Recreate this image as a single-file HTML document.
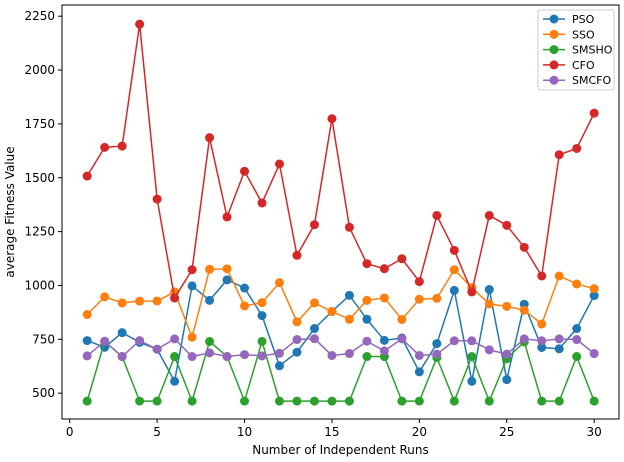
<!DOCTYPE html>
<html><head><meta charset="utf-8"><style>
html,body{margin:0;padding:0;background:#fff;}
svg{display:block;font-family:"DejaVu Sans","Liberation Sans",sans-serif;}
</style></head><body>
<svg id="chart" width="624" height="462" viewBox="0 0 624 462" xmlns="http://www.w3.org/2000/svg">
<g id="plot"></g>
</svg>
<script>
const runs = Array.from({length:30},(_,i)=>i+1);
const psoValues = [744,713,781,736,704,555,998,931,1026,988,860,627,690,800,879,954,843,745,756,599,730,977,555,981,563,913,712,706,800,953];
const ssoValues = [865,947,919,927,928,970,760,1075,1077,905,920,1013,831,919,879,843,931,942,842,936,940,1073,990,914,903,885,821,1044,1007,985];
const smshoValues = [463,740,670,463,463,670,463,740,670,463,740,463,463,463,463,463,670,670,463,463,665,463,670,463,660,738,463,463,670,463];
const cfoValues = [1508,1641,1647,2213,1401,942,1073,1686,1318,1530,1383,1564,1140,1282,1774,1270,1101,1078,1124,1018,1325,1163,970,1325,1279,1177,1044,1607,1636,1800];
const smcfoValues = [673,741,670,744,704,752,670,687,670,679,673,685,749,753,675,684,741,696,752,675,681,743,743,701,681,752,743,752,749,684];
const seriesNames = ["PSO","SSO","SMSHO","CFO","SMCFO"];
const xTicks = [0,5,10,15,20,25,30];
const yTicks = [500,750,1000,1250,1500,1750,2000,2250];

const colors = ["#1f77b4","#ff7f0e","#2ca02c","#d62728","#9467bd"];
const allSeries = [psoValues,ssoValues,smshoValues,cfoValues,smcfoValues];
const L=62,R=619,T=5,B=419;
const xMin=-0.44,xMax=31.42,yMin=380,yMax=2302;
const xs=v=>L+(v-xMin)/(xMax-xMin)*(R-L);
const ys=v=>B-(v-yMin)/(yMax-yMin)*(B-T);
const NS="http://www.w3.org/2000/svg";
const g=document.getElementById('plot');
function mk(tag,attrs,parent){const e=document.createElementNS(NS,tag);for(const k in attrs)e.setAttribute(k,attrs[k]);(parent||g).appendChild(e);return e;}

// series
allSeries.forEach((vals,si)=>{
  const sg=mk('g',{});
  
  
  const pts=vals.map((v,i)=>xs(runs[i]).toFixed(2)+','+ys(v).toFixed(2)).join(' ');
  const pl=mk('polyline',{points:pts,fill:'none',stroke:colors[si],'stroke-width':1.5},sg);
  
  
  vals.forEach((v,i)=>{
    const c=mk('circle',{cx:xs(runs[i]),cy:ys(v),r:4.5,fill:colors[si]},sg);
    
    
  });
});

// axes frame
const frame=mk('rect',{x:L,y:T,width:R-L,height:B-T,fill:'none',stroke:'#000','stroke-width':1});



xTicks.forEach(t=>{
  const x=xs(t);
  mk('line',{x1:x,x2:x,y1:B,y2:B+4,stroke:'#000'});
  const tx=mk('text',{x:x,y:B+17,'text-anchor':'middle','font-size':12,fill:'#000'});
  tx.textContent=t;
  
  
});
yTicks.forEach(t=>{
  const y=ys(t);
  mk('line',{x1:L-4,x2:L,y1:y,y2:y,stroke:'#000'});
  const tx=mk('text',{x:L-7,y:y+4,'text-anchor':'end','font-size':12,fill:'#000'});
  tx.textContent=t;
  
  
});
const xt=mk('text',{x:(L+R)/2,y:454,'text-anchor':'middle','font-size':12,fill:'#000'});
xt.textContent='Number of Independent Runs';


const yt=mk('text',{x:0,y:0,'text-anchor':'middle','font-size':12,fill:'#000',transform:'translate(14,212) rotate(-90)'});
yt.textContent='average Fitness Value';



// legend
const lg=mk('g',{});


mk('rect',{x:538,y:10,width:76,height:80,rx:2,fill:'#fff','fill-opacity':0.8,stroke:'#ccc'},lg);
seriesNames.forEach((n,i)=>{
  const y=19+i*15.3;
  const eg=mk('g',{},lg);
  
  
  mk('line',{x1:543,x2:565,y1:y,y2:y,stroke:colors[i],'stroke-width':1.5},eg);
  mk('circle',{cx:554,cy:y,r:4.5,fill:colors[i]},eg);
  const t=mk('text',{x:572,y:y+4,'font-size':11,fill:'#000'},eg);
  t.textContent=n;
});
</script>
</body></html>
